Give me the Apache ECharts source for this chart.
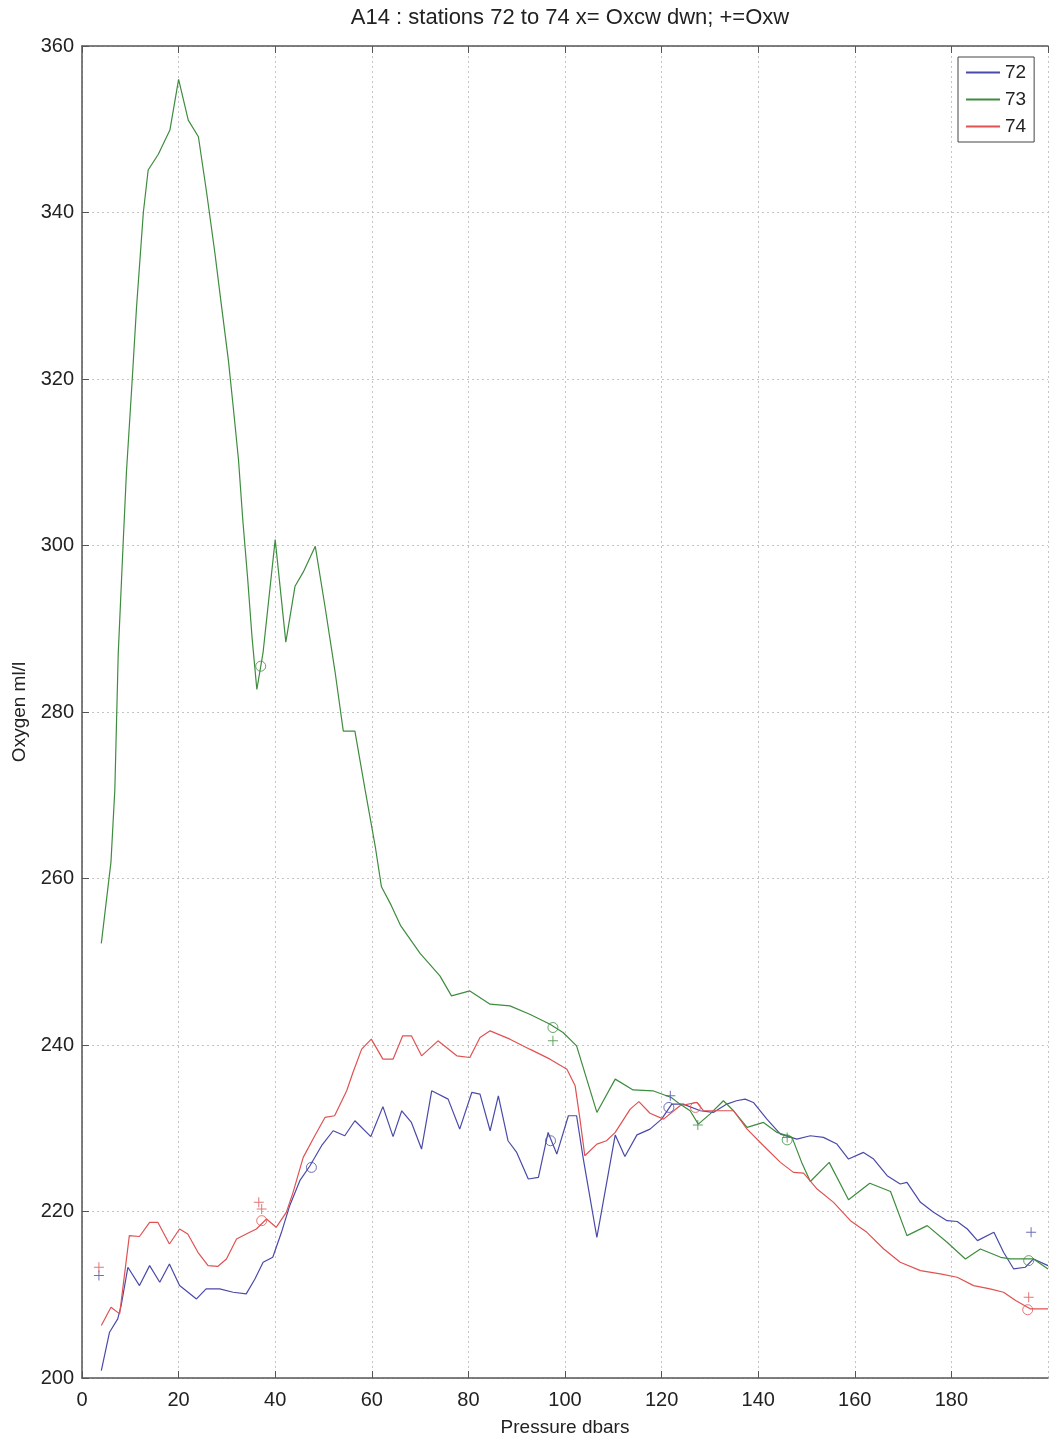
<!DOCTYPE html>
<html><head><meta charset="utf-8">
<script src="https://cdn.jsdelivr.net/npm/echarts@6/dist/echarts.min.js"></script>
<style>html,body{margin:0;padding:0;background:#fff}#c{width:1049px;height:1442px}</style>
</head><body><div id="c"></div>
<script>
// ---- data (pressure dbar, oxygen) ----
const pres72 = [4,5.7,7.4,8.1,9.5,11.9,14,16.1,18.1,20.2,23.7,25.7,28.5,31.3,34,35.8,37.5,39.5,41.3,43,45.1,47.2,49.6,52,54.4,56.5,59.8,62.3,64.4,66.2,68.2,70.3,72.4,75.8,78.2,80.7,82.4,84.5,86.2,88.2,90,92.4,94.5,96.5,98.3,100.7,102.4,103.8,106.6,110.4,112.4,114.9,117.6,120,122.1,124.5,128,130.7,133.5,135.5,137.3,139,141.8,144.6,148,150.8,153.5,156.3,158.7,161.8,163.9,166.7,169.4,170.8,173.6,176.3,179.1,181.2,183.3,185.4,188.8,190.8,192.9,195.3,197,200];
const oxy72  = [200.9,205.5,207.1,208.7,213.3,211.1,213.5,211.5,213.7,211.1,209.5,210.7,210.7,210.3,210.1,211.9,213.9,214.5,217.5,220.7,223.7,225.5,227.9,229.7,229.1,230.9,229,232.6,229,232.1,230.7,227.5,234.5,233.5,229.9,234.3,234.1,229.7,233.9,228.5,227.1,223.9,224.1,229.5,226.9,231.5,231.5,226.3,216.9,229.2,226.6,229.2,229.9,231.1,232.9,232.9,232.1,231.9,232.9,233.3,233.5,233.1,231.1,229.3,228.7,229.1,228.9,228.1,226.3,227.1,226.3,224.3,223.3,223.5,221.1,219.9,218.9,218.8,217.9,216.5,217.5,215.1,213.1,213.3,214.3,213.5];

const pres73 = [4,6,6.8,7.5,8.5,9.2,10.3,11.3,12.7,13.7,15.8,18.2,20,22,24.1,25.8,27.5,28.9,30.3,31.3,32.4,33.3,34.3,35.2,36.2,37.5,40,42.2,44.1,45.8,48.3,50.3,52.4,54.1,56.5,58.6,60.7,62,64,66,70,74.1,76.5,80.3,84.5,88.6,92.7,96.9,99.6,102.4,104.5,106.6,110.4,114.1,118.2,122,123.8,125.9,127.6,130,132.8,134.9,137.7,141.1,143.9,147,149,150.8,154.7,158.7,163.1,167.4,170.8,175,179.1,182.9,186,190.2,192.2,197,200];
const oxy73  = [252.2,262,270.7,287,300,308.8,319,328.7,340,345.1,347,349.9,356,351.1,349.1,342.4,335.2,328.7,322.3,316.7,310.3,303,296,289,282.7,287.2,300.7,288.4,295.1,296.8,299.9,292.7,284.8,277.7,277.7,270.7,263.9,259,256.8,254.3,251,248.3,245.9,246.5,244.9,244.7,243.7,242.5,241.5,239.9,235.9,231.9,235.9,234.6,234.5,233.7,232.9,232.1,230.5,231.7,233.3,232.1,230.1,230.7,229.5,228.9,225.9,223.6,225.9,221.4,223.4,222.4,217.1,218.3,216.3,214.3,215.5,214.5,214.3,214.3,213.1];

const pres74 = [4,6,7.8,9.8,11.9,14,15.7,18.1,20.2,21.9,24,26.1,28.1,29.9,32,34,36.1,38.2,40.2,42.3,43.7,45.8,48.2,50.3,52.3,54.8,56.1,57.9,59.9,62.3,64.4,66.4,68.2,70.3,73.7,77.6,80.3,82.4,84.5,88.6,92.7,96.9,100.4,102.1,103.1,104.1,106.6,108.6,110.4,113.5,115.3,117.6,120.4,123.8,127.3,128.7,131.4,134.9,137.7,141.1,144.6,147.3,149.4,152.2,155.6,159.1,162.5,166,169.4,173.6,177.7,181.2,184.6,188,190.8,193.3,196.4,200];
const oxy74  = [206.3,208.5,207.7,217.1,217,218.7,218.7,216.1,217.9,217.3,215.1,213.5,213.4,214.3,216.7,217.3,217.9,219.1,218.1,219.9,222.3,226.5,229.1,231.3,231.5,234.5,236.7,239.5,240.7,238.3,238.3,241.1,241.1,238.7,240.5,238.7,238.5,240.9,241.7,240.7,239.5,238.3,237.1,235.1,231.1,226.7,228.1,228.5,229.5,232.3,233.2,231.8,231.1,232.7,233.1,232.1,232.1,232.1,229.9,227.9,225.9,224.7,224.6,222.7,221.1,218.9,217.5,215.5,213.9,212.9,212.5,212.1,211.1,210.7,210.3,209.3,208.3,208.3];

// bottle markers: circles (Oxcw dwn) and pluses (Oxw)
const circ72P = [47.5,97,121.5];      const circ72V = [225.3,228.5,232.5];
const plus72P = [3.5,121.8,196.5];    const plus72V = [212.3,233.9,217.5];
const circ73P = [37,97.5,146,196];    const circ73V = [285.5,242.1,228.6,214.1];
const plus73P = [97.5,127.5,146];     const plus73V = [240.5,230.4,228.9];
const circ74P = [37.2,127,195.8];     const circ74V = [218.9,232.5,208.2];
const plus74P = [3.5,36.6,37.2,196];  const plus74V = [213.3,221.1,220.3,209.7];

const xTicks = [0,20,40,60,80,100,120,140,160,180];
const names = ['72','73','74'];
const colors = ['#4a4aaa','#3e8c3e','#e05252'];

const zip = (a,b) => a.map((v,i)=>[v,b[i]]);
const FONT = '"Liberation Sans", Arial, Helvetica, sans-serif';
const PLUS = 'path://M-0.1,-1H0.1V-0.1H1V0.1H0.1V1H-0.1V0.1H-1V-0.1H-0.1Z';

function lineS(name, p, v, c){
  return {name, type:'line', data: zip(p,v), showSymbol:false, symbol:'none',
    lineStyle:{color:c, width:1.2}, itemStyle:{color:c}, animation:false, z:3};
}
function circS(p, v, c){
  return {type:'scatter', data: zip(p,v), symbol:'circle', symbolSize:10,
    itemStyle:{color:'rgba(0,0,0,0)', borderColor:c, borderWidth:1}, animation:false, z:4, silent:true};
}
function plusS(p, v, c){
  return {type:'scatter', data: zip(p,v), symbol:PLUS, symbolSize:10,
    itemStyle:{color:c}, animation:false, z:4, silent:true};
}

const chart = echarts.init(document.getElementById('c'), null, {renderer:'canvas'});
chart.setOption({
  backgroundColor:'#fff',
  animation:false,
  textStyle:{fontFamily:FONT},
  title:{text:'A14 : stations 72 to 74 x= Oxcw dwn; +=Oxw', left:565, top:2, textAlign:'center',
    textStyle:{fontSize:22, fontWeight:'normal', color:'#222', fontFamily:FONT}},
  legend:{data:names, orient:'vertical', left:958, top:57, padding:[6,8,6,8], itemGap:8,
    itemWidth:34, itemHeight:2, icon:'rect', backgroundColor:'#fff', borderColor:'#444', borderWidth:1,
    textStyle:{fontSize:19, color:'#222', fontFamily:FONT}},
  grid:{left:82, top:46, right:1, bottom:63, containLabel:false},
  xAxis:[{type:'value', min:0, max:200, interval:20, position:'bottom',
    name:'Pressure dbars', nameLocation:'middle', nameGap:40,
    nameTextStyle:{fontSize:19, color:'#222', fontFamily:FONT},
    axisLine:{show:true, onZero:false, lineStyle:{color:'#555', width:1.5}},
    axisTick:{show:true, inside:true, length:7, lineStyle:{color:'#555'}},
    axisLabel:{fontSize:20, color:'#222', margin:12, showMaxLabel:false,
      formatter: v => xTicks.includes(v) ? String(v) : ''},
    splitLine:{show:true, lineStyle:{color:'#c4c4c4', type:[2,3], width:1}}},
   {type:'value', min:0, max:200, interval:20, position:'top',
    axisLine:{show:true, onZero:false, lineStyle:{color:'#555', width:1.5}},
    axisTick:{show:true, inside:true, length:7, lineStyle:{color:'#555'}},
    axisLabel:{show:false}, splitLine:{show:false}}],
  yAxis:{type:'value', min:200, max:360, interval:20,
    name:'Oxygen ml/l', nameLocation:'middle', nameGap:52, nameRotate:90,
    nameTextStyle:{fontSize:19, color:'#222', fontFamily:FONT},
    axisLine:{show:true, onZero:false, lineStyle:{color:'#555', width:1.5}},
    axisTick:{show:true, inside:true, length:7, lineStyle:{color:'#555'}},
    axisLabel:{fontSize:20, color:'#222', margin:8},
    splitLine:{show:true, lineStyle:{color:'#c4c4c4', type:[2,3], width:1}}},
  series:[
    lineS(names[0], pres72, oxy72, colors[0]),
    lineS(names[1], pres73, oxy73, colors[1]),
    lineS(names[2], pres74, oxy74, colors[2]),
    circS(circ72P, circ72V, colors[0]), plusS(plus72P, plus72V, colors[0]),
    circS(circ73P, circ73V, colors[1]), plusS(plus73P, plus73V, colors[1]),
    circS(circ74P, circ74V, colors[2]), plusS(plus74P, plus74V, colors[2])
  ]
});
</script></body></html>
